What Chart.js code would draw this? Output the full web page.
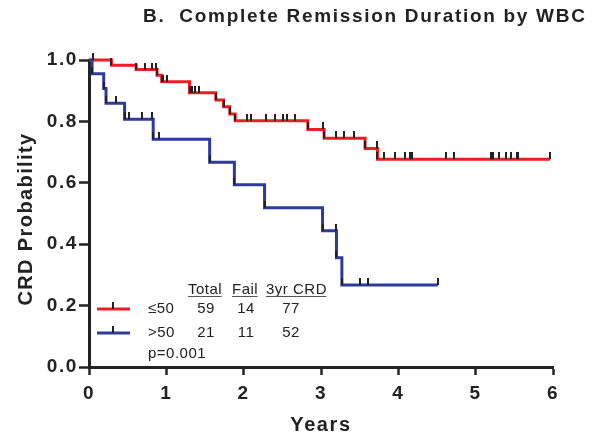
<!DOCTYPE html>
<html>
<head>
<meta charset="utf-8">
<script src="https://cdn.jsdelivr.net/npm/chart.js@4.4.1/dist/chart.umd.min.js"></script>
<style>
  html, body { margin: 0; padding: 0; background: #ffffff; }
  #wrap { width: 608px; height: 443px; position: relative; }
</style>
</head>
<body>
<div id="wrap"><canvas id="c" width="608" height="443"></canvas></div>
<script>
// ---- Data ----
const chartTitle = "B.  Complete Remission Duration by WBC";
const xTitle = "Years";
const yTitle = "CRD Probability";
const xTicks = [0, 1, 2, 3, 4, 5, 6];
const yTicks = [0.0, 0.2, 0.4, 0.6, 0.8, 1.0];

// Kaplan-Meier step points: time (years) and survival after that time
const lowTimes = [0, 0.29, 0.61, 0.88, 0.94, 1.30, 1.64, 1.74, 1.82, 1.89, 2.83, 3.04, 3.57, 3.73, 5.96];
const lowSurv  = [1.0, 0.983, 0.969, 0.950, 0.929, 0.893, 0.870, 0.848, 0.824, 0.802, 0.774, 0.745, 0.712, 0.677, 0.677];
const lowCensor = [0.05, 0.72, 0.82, 0.87, 0.96, 1.01, 1.33, 1.37, 1.42, 2.04, 2.10, 2.29, 2.40, 2.51, 2.56, 2.66,
                   3.03, 3.19, 3.30, 3.43, 3.72, 3.82, 3.96, 4.09, 4.15, 4.18, 4.62, 4.72, 5.20, 5.23, 5.30, 5.39,
                   5.46, 5.53, 5.55];

const highTimes = [0, 0.04, 0.19, 0.22, 0.46, 0.83, 1.56, 1.88, 2.27, 3.02, 3.20, 3.27, 4.51];
const highSurv  = [1.0, 0.955, 0.907, 0.859, 0.807, 0.742, 0.667, 0.594, 0.519, 0.444, 0.356, 0.267, 0.267];
const highCensor = [0.35, 0.52, 0.69, 0.82, 0.91, 3.19, 3.51, 3.61];

const groupLabels = ["\u226450", ">50"];
const groupTotal = [59, 21];
const groupFail = [14, 11];
const group3yr = [77, 52];
const tableHeader = ["Total", "Fail", "3yr CRD"];
const pValueText = "p=0.001";

// ---- Styling ----
const RED = "#ee1c24";
const BLUE = "#2e3a9c";
const INK = "#222222";
const FONT = '"Liberation Sans", Arial, Helvetica, sans-serif';

function toPoints(ts, ss) { return ts.map((t, i) => ({ x: t, y: ss[i] })); }
function levelAt(ts, ss, t) {
  let v = ss[0];
  for (let i = 0; i < ts.length; i++) { if (ts[i] <= t) v = ss[i]; }
  return v;
}
function censorPoints(cs, ts, ss) { return cs.map(t => ({ x: t, y: levelAt(ts, ss, t) })); }

// tick mark image: vertical black bar going upward from the point
const tickImg = document.createElement('canvas');
tickImg.width = 2; tickImg.height = 14;
(function () { const g = tickImg.getContext('2d'); g.fillStyle = INK; g.fillRect(0, 0, 2, 7); })();

Chart.defaults.font.family = FONT;
Chart.defaults.color = INK;

const spacingPlugin = {
  id: 'spacing',
  beforeUpdate(c) { c.ctx.letterSpacing = '1.6px'; },
  beforeDraw(c) { c.ctx.letterSpacing = '1.6px'; }
};

const decorPlugin = {
  id: 'decor',
  afterDraw(c) {
    const ctx = c.ctx;
    ctx.save();
    // Title
    ctx.letterSpacing = '1.7px';
    ctx.fillStyle = INK;
    ctx.font = 'bold 19px ' + FONT;
    ctx.textAlign = 'left';
    ctx.textBaseline = 'middle';
    ctx.fillText(chartTitle, 143, 17);

    // Y axis title (rotated)
    ctx.save();
    ctx.letterSpacing = '1.4px';
    ctx.font = 'bold 20px ' + FONT;
    ctx.translate(26, 219);
    ctx.rotate(-Math.PI / 2);
    ctx.textAlign = 'center';
    ctx.textBaseline = 'middle';
    ctx.fillText(yTitle, 0, 0);
    ctx.restore();

    // Legend table
    ctx.letterSpacing = '0.5px';
    ctx.font = '15px ' + FONT;
    ctx.textBaseline = 'middle';
    const hx = [188, 232, 266];
    ctx.strokeStyle = '#555';
    ctx.lineWidth = 1;
    tableHeader.forEach((h, i) => {
      ctx.textAlign = 'left';
      ctx.fillText(h, hx[i], 290);
      const w = ctx.measureText(h).width - 0.5;
      ctx.beginPath();
      ctx.moveTo(hx[i], 296.5);
      ctx.lineTo(hx[i] + w, 296.5);
      ctx.stroke();
    });
    const rowY = [309, 333];
    const cols = [RED, BLUE];
    rowY.forEach((y, i) => {
      ctx.strokeStyle = cols[i];
      ctx.lineWidth = 3;
      ctx.beginPath(); ctx.moveTo(97, y); ctx.lineTo(130, y); ctx.stroke();
      ctx.fillStyle = INK;
      ctx.fillRect(112, y - 7, 2, 7);
      ctx.textAlign = 'left';
      ctx.fillText(groupLabels[i], 148, y);
      ctx.textAlign = 'center';
      ctx.fillText(String(groupTotal[i]), 206, y);
      ctx.fillText(String(groupFail[i]), 246, y);
      ctx.fillText(String(group3yr[i]), 291, y);
    });
    ctx.textAlign = 'left';
    ctx.fillText(pValueText, 148, 354);
    ctx.restore();
  }
};

const lineCommon = {
  stepped: 'before',
  borderWidth: 3,
  fill: false,
  pointStyle: tickImg,
  pointRadius: (ctx) => (ctx.dataIndex === 0 ? 0 : 3),
  pointHoverRadius: (ctx) => (ctx.dataIndex === 0 ? 0 : 3),
  clip: false,
  showLine: true
};

new Chart(document.getElementById('c'), {
  type: 'scatter',
  data: {
    datasets: [
      { label: 'low censor', data: censorPoints(lowCensor, lowTimes, lowSurv), showLine: false,
        pointStyle: tickImg, pointRadius: 3, clip: false, order: 0 },
      { label: 'high censor', data: censorPoints(highCensor, highTimes, highSurv), showLine: false,
        pointStyle: tickImg, pointRadius: 3, clip: false, order: 0 },
      Object.assign({ label: groupLabels[1], data: toPoints(highTimes, highSurv), borderColor: BLUE, order: 1 }, lineCommon),
      Object.assign({ label: groupLabels[0], data: toPoints(lowTimes, lowSurv), borderColor: RED, order: 2 }, lineCommon)
    ]
  },
  options: {
    responsive: false,
    devicePixelRatio: 1,
    animation: false,
    events: [],
    layout: { padding: { top: 60, right: 55, left: 0, bottom: 0 } },
    plugins: { legend: { display: false }, tooltip: { enabled: false }, title: { display: false } },
    scales: {
      x: {
        type: 'linear', min: 0, max: 6,
        afterBuildTicks: (s) => { s.ticks = xTicks.map(v => ({ value: v })); },
        afterFit: (s) => { s.height = 76; },
        ticks: { font: { size: 19, weight: 'bold' }, padding: 7, color: INK },
        grid: { drawOnChartArea: false, drawTicks: true, tickLength: 8, tickWidth: 2.5, color: INK },
        border: { display: true, width: 3, color: INK },
        title: { display: true, text: xTitle, font: { size: 20, weight: 'bold' }, color: INK, padding: { top: 0, bottom: 6 } }
      },
      y: {
        type: 'linear', min: 0, max: 1,
        afterBuildTicks: (s) => { s.ticks = yTicks.map(v => ({ value: v })); },
        afterFit: (s) => { s.width = 89; },
        ticks: { font: { size: 19, weight: 'bold' }, padding: 1, color: INK, callback: (v) => Number(v).toFixed(1) },
        grid: { drawOnChartArea: false, drawTicks: true, tickLength: 10, tickWidth: 2.5, color: INK },
        border: { display: true, width: 3, color: INK },
        title: { display: false }
      }
    }
  },
  plugins: [spacingPlugin, decorPlugin]
});
</script>
</body>
</html>
